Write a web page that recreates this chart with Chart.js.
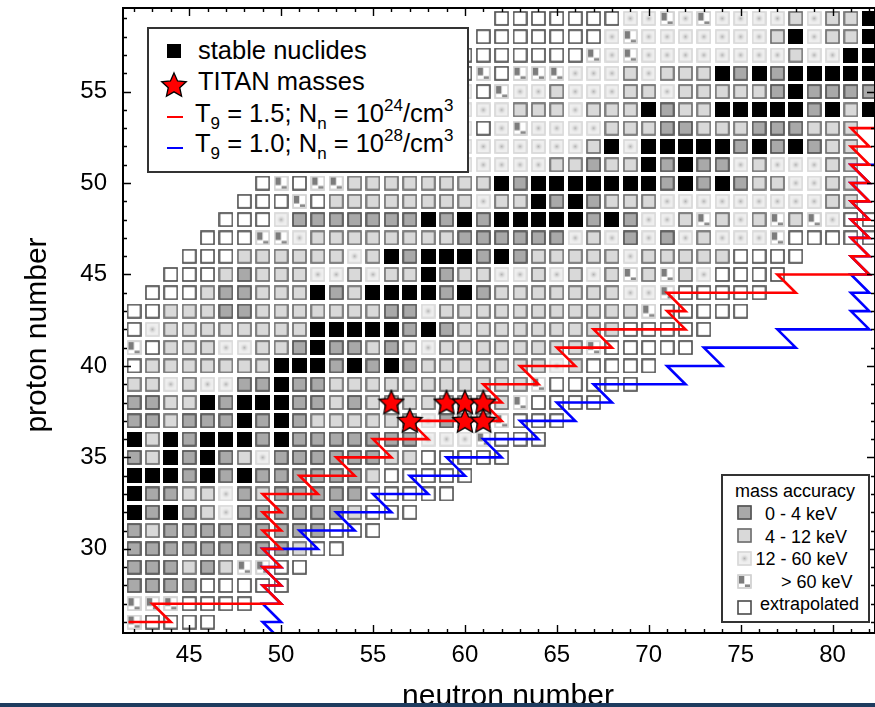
<!DOCTYPE html>
<html>
<head>
<meta charset="utf-8">
<script src="https://cdn.jsdelivr.net/npm/chart.js@4/dist/chart.umd.min.js"></script>
<style>
html,body{margin:0;padding:0;background:#fff;overflow:hidden;}
#wrap{position:relative;width:875px;height:707px;font-family:"Liberation Sans",Arial,Helvetica,sans-serif;color:#000;}
#c{position:absolute;left:0;top:0;}
.abs{position:absolute;white-space:nowrap;line-height:1;}
.box{position:absolute;box-sizing:border-box;background:#fff;border:2px solid #333;}
.l1{font-size:25.5px;}
.l2{font-size:18px;}
.sb{position:relative;font-size:17px;top:7px;line-height:0;}
.sp{position:relative;font-size:17px;top:-11px;line-height:0;}
</style>
</head>
<body>
<div id="wrap">
<canvas id="c" width="875" height="707"></canvas>

<div class="box" style="left:147px;top:27px;width:322px;height:146px;"></div>
<canvas id="icoStable" class="abs" width="16" height="16" style="left:166px;top:43px;"></canvas>
<canvas id="icoStar" class="abs" width="28" height="28" style="left:160px;top:71px;"></canvas>
<div class="abs" style="left:167px;top:116px;width:16px;height:2px;background:#ff0000;"></div>
<div class="abs" style="left:167px;top:147px;width:16px;height:2px;background:#0000ff;"></div>
<div class="abs l1" style="left:198px;top:38px;">stable nuclides</div>
<div class="abs l1" style="left:198px;top:69px;">TITAN masses</div>
<div class="abs l1" style="left:195px;top:101px;">T<span class="sb">9</span> = 1.5; N<span class="sb">n</span> = 10<span class="sp">24</span>/cm<span class="sp">3</span></div>
<div class="abs l1" style="left:195px;top:131px;">T<span class="sb">9</span> = 1.0; N<span class="sb">n</span> = 10<span class="sp">28</span>/cm<span class="sp">3</span></div>

<div class="box" style="left:721px;top:474px;width:149px;height:149px;"></div>
<div class="abs l2" style="left:735px;top:482px;">mass accuracy</div>
<canvas id="icoA" class="abs" width="15" height="15" style="left:737px;top:505px;"></canvas>
<canvas id="icoB" class="abs" width="15" height="15" style="left:737px;top:528px;"></canvas>
<canvas id="icoC" class="abs" width="15" height="15" style="left:737px;top:551px;"></canvas>
<canvas id="icoD" class="abs" width="15" height="15" style="left:737px;top:574px;"></canvas>
<canvas id="icoE" class="abs" width="15" height="15" style="left:737px;top:600px;"></canvas>
<div class="abs l2" style="left:765px;top:505px;">0 - 4 keV</div>
<div class="abs l2" style="left:765px;top:527.5px;">4 - 12 keV</div>
<div class="abs l2" style="left:755.5px;top:550px;">12 - 60 keV</div>
<div class="abs l2" style="left:781px;top:572.5px;">&gt; 60 keV</div>
<div class="abs l2" style="left:760px;top:595px;">extrapolated</div>

<div class="abs" style="left:-114px;top:320px;width:300px;height:30px;line-height:30px;font-size:30px;text-align:center;transform:rotate(-90deg);">proton number</div>
<div class="abs" style="left:308px;top:679.6px;width:400px;font-size:30px;text-align:center;">neutron number</div>
<div class="abs" style="left:0;top:703px;width:875px;height:4px;background:#1e3c5f;"></div>
</div>

<script>
// ---------------- data ----------------
const protonNumbers = [26,27,28,29,30,31,32,33,34,35,36,37,38,39,40,41,42,43,44,45,46,47,48,49,50,51,52,53,54,55,56,57,58,59];
const firstNeutron  = [42,42,42,42,42,42,42,42,42,42,42,42,42,42,42,42,42,42,43,44,45,46,47,48,49,60,60,60,60,60,60,60,61,62];
// S = stable, A = 0-4 keV, B = 4-12 keV, C = 12-60 keV, D = >60 keV, E = extrapolated
const accuracyCodes = [
  "DEEEE",
  "DDDEEEE",
  "AAAAEEEEE",
  "AAABABDDEE",
  "AAAAAAAAA" + "B" + "EE",
  "AB" + "AAAAAAAAA" + "EEE",
  "SASABC" + "AAAAAA" + "B" + "EEE",
  "SAABBCAB" + "AAAAA" + "EEEEE",
  "SSSASAS" + "AAAAAA" + "B" + "EEEEE",
  "ABSASABC" + "AAAAAA" + "BB" + "EEEEE",
  "SBSASSSAS" + "AAAAAAA" + "CCCD" + "EEE",
  "AABAAASASA" + "BBBBBB" + "CABBD" + "EEE",
  "AABBSASSSAABAB" + "BBBBBBB" + "D" + "EEEE",
  "BBCBCCAASAA" + "BBBBBBBBBBB" + "D" + "EEEEE",
  "E" + "BBBBBBB" + "SSSAS" + "ASA" + "BBBBBBB" + "CB" + "EEEE",
  "DEBBBCCBBASAAB" + "ABC" + "BBBBBBBB" + "D" + "EEEEE",
  "EC" + "BBBBBBBB" + "SSSSS" + "ASA" + "BBBBBBBBB" + "EEEEE",
  "EEBBBAA" + "BBBBBBB" + "AAC" + "BBBBBBBBBB" + "BD" + "EEEEE",
  "EEEBAABBBSABS" + "SSSASA" + "BBBBBBB" + "CCD" + "EEEEE",
  "EEEBABBBCCBC" + "BBSABBCCBCBCB" + "DBDBC" + "EEEE",
  "EEE" + "BBBBBB" + "CB" + "SASSSASA" + "BBBBB" + "C" + "BBBBB" + "EEEE",
  "EEEDDC" + "BBBBBBBB" + "AAAAAA" + "CBC" + "ACACBCCCD" + "EEEEE",
  "EEEC" + "AAAAAAA" + "SASA" + "SSSSS" + "AS" + "ACCBDBCBDBDC" + "EE",
  "EEEDE" + "BBBBBBBB" + "CBBSASAB" + "BB" + "CCCCCCCCC" + "BB",
  "EDEDD" + "BBBBBBBB" + "SA" + "SSSSS" + "SSASASA" + "BBCCBB",
  "CCCCCBBAB" + "BSASAACBCCCBB",
  "CCCCCCCBS" + "CSSSSSASASABB",
  "CECDCCCCB" + "BBAABBBAAABBB",
  "CCCBBBCBB" + "BSABBSSSSSASBS",
  "CEDCCBCCC" + "BBCBBBBBASAAAA",
  "EDEDDDCCC" + "BCBBBSASASSSSS",
  "EEEEEEEDC" + "DCCCCCCCCBCCSS",
  "EEEEEEEC" + "DCCCCCCCBSCBBS",
  "EEEEEEE" + "CCDCDCCCCBCBBS"
];
const titanN = [56, 59, 60, 61, 57, 60, 61];
const titanZ = [38, 38, 38, 38, 37, 37, 37];

// r-process paths: for each proton number, the neutron range of the path
const redZ    = [26,27,28,29,30,31,32,33,34,35,36,37,38,39,40,41,42,43,44,45,46,47,48,49,50,51,52,53];
const redFrom = [41.7,43,49,49,49,49,49,49,51,53,55,57,61,61,63,65,67,71,71,77,81,81,81,81,81,81,81,81];
const redTo   = [44,50,50,50,50,50,50,52,54,56,58,62,62,64,66,68,72,72,78,82,82,82,82,82,82,82,82,84];
const blueZ    = [25,26,27,28,29,30,31,32,33,34,35,36,37,38,39,40,41,42,43,44,45,46,47,48,49,50,51];
const blueFrom = [49,49,49,49,49,49,51,53,55,57,59,61,63,65,67,71,73,77,81,81,81,81,81,81,81,81,81];
const blueTo   = [50,50,50,50,50,52,54,56,58,60,62,64,66,68,72,74,78,82,82,82,82,82,82,82,82,82,84];

const neutronTicks = [45, 50, 55, 60, 65, 70, 75, 80];
const protonTicks  = [30, 35, 40, 45, 50, 55];

// ---------------- marker painters ----------------
function paintCell(g, code, s) {
  g.clearRect(0, 0, s, s);
  if (code === 'S') { g.fillStyle = '#000'; g.fillRect(0, 0, s, s); return; }
  const styles = {
    A: ['#a9a9a9', '#505050'],
    B: ['#d9d9d9', '#6c6c6c'],
    C: ['#efefef', '#d8d8d8'],
    D: ['#ececec', '#d0d0d0'],
    E: ['#ffffff', '#4a4a4a']
  };
  const [fill, stroke] = styles[code];
  g.fillStyle = fill; g.fillRect(0.5, 0.5, s - 1, s - 1);
  if (code === 'C') {
    const gr = g.createRadialGradient(s / 2, s / 2, 0, s / 2, s / 2, s * 0.33);
    gr.addColorStop(0, 'rgba(170,170,170,0.9)');
    gr.addColorStop(1, 'rgba(239,239,239,0)');
    g.fillStyle = gr; g.fillRect(1, 1, s - 2, s - 2);
  }
  if (code === 'D') {
    const u = s / 15;
    g.fillStyle = '#7c7c7c'; g.fillRect(2 * u, 2 * u, 5.5 * u, 7.5 * u);
    g.fillStyle = '#ffffff'; g.fillRect(7.5 * u, 2 * u, 5.5 * u, 8 * u);
    g.fillStyle = '#ffffff'; g.fillRect(2 * u, 10 * u, 5.5 * u, 3 * u);
    g.fillStyle = '#8a8a8a'; g.fillRect(8 * u, 10.5 * u, 5 * u, 2.5 * u);
  }
  g.strokeStyle = stroke; g.lineWidth = 1.6;
  g.strokeRect(1, 1, s - 2, s - 2);
}
function makeCell(code, s) {
  const c = document.createElement('canvas');
  c.width = s; c.height = s;
  paintCell(c.getContext('2d'), code, s);
  return c;
}
function paintStar(g, s) {
  const cx = s / 2, cy = s / 2 + 0.8, R = s * 0.46, r = s * 0.215;
  g.beginPath();
  for (let i = 0; i < 10; i++) {
    const rad = (i % 2 === 0) ? R : r;
    const a = -Math.PI / 2 + i * Math.PI / 5;
    const px = cx + rad * Math.cos(a), py = cy + rad * Math.sin(a);
    if (i === 0) g.moveTo(px, py); else g.lineTo(px, py);
  }
  g.closePath();
  g.fillStyle = '#ff0000'; g.fill();
  g.strokeStyle = '#000'; g.lineWidth = 1.3; g.stroke();
}
function makeStar(s) {
  const c = document.createElement('canvas');
  c.width = s; c.height = s;
  paintStar(c.getContext('2d'), s);
  return c;
}

// legend icons
(function () {
  const gS = document.getElementById('icoStable').getContext('2d');
  gS.fillStyle = '#000'; gS.fillRect(1, 1, 14, 14);
  paintStar(document.getElementById('icoStar').getContext('2d'), 28);
  ['A', 'B', 'C', 'D', 'E'].forEach(k => {
    paintCell(document.getElementById('ico' + k).getContext('2d'), k, 15);
  });
})();

// ---------------- datasets ----------------
const cellPoints = { S: [], A: [], B: [], C: [], D: [], E: [] };
protonNumbers.forEach((z, i) => {
  const codes = accuracyCodes[i];
  for (let k = 0; k < codes.length; k++) {
    cellPoints[codes[k]].push({ x: firstNeutron[i] + k, y: z });
  }
});
function pathPoints(zs, from, to) {
  const pts = [];
  zs.forEach((z, i) => { pts.push({ x: from[i], y: z }); pts.push({ x: to[i], y: z }); });
  return pts;
}

const datasets = [];
datasets.push({
  label: 'TITAN masses',
  data: titanN.map((n, i) => ({ x: n, y: titanZ[i] })),
  pointStyle: makeStar(28), pointRadius: 12, order: 0
});
datasets.push({
  label: 'T9 = 1.5',
  data: pathPoints(redZ, redFrom, redTo),
  showLine: true, borderColor: '#ff0000', borderWidth: 2.6, pointRadius: 0,
  fill: false, tension: 0, order: 1
});
datasets.push({
  label: 'T9 = 1.0',
  data: pathPoints(blueZ, blueFrom, blueTo),
  showLine: true, borderColor: '#0000ff', borderWidth: 2.6, pointRadius: 0,
  fill: false, tension: 0, order: 2
});
['S', 'A', 'B', 'C', 'D', 'E'].forEach(k => {
  datasets.push({
    label: k,
    data: cellPoints[k],
    pointStyle: makeCell(k, 15), pointRadius: 7, order: 3
  });
});

// frame with inward ticks
const framePlugin = {
  id: 'frame',
  afterDatasetsDraw(chart) {
    const { ctx, chartArea: a, scales: { x, y } } = chart;
    ctx.save();
    ctx.strokeStyle = '#000';
    ctx.lineWidth = 1.4;
    ctx.beginPath();
    for (let n = Math.ceil(x.min); n <= x.max; n++) {
      const px = Math.round(x.getPixelForValue(n)) + 0.5;
      const L = (n % 5 === 0) ? 8 : 4;
      ctx.moveTo(px, a.bottom); ctx.lineTo(px, a.bottom - L);
      ctx.moveTo(px, a.top); ctx.lineTo(px, a.top + L);
    }
    for (let z = Math.ceil(y.min); z <= y.max; z++) {
      const py = Math.round(y.getPixelForValue(z)) + 0.5;
      const L = (z % 5 === 0) ? 8 : 4;
      ctx.moveTo(a.left, py); ctx.lineTo(a.left + L, py);
      ctx.moveTo(a.right, py); ctx.lineTo(a.right - L, py);
    }
    ctx.stroke();
    ctx.lineWidth = 2;
    ctx.strokeRect(a.left, a.top, a.right - a.left, a.bottom - a.top);
    ctx.restore();
  }
};

new Chart(document.getElementById('c'), {
  type: 'scatter',
  data: { datasets },
  options: {
    responsive: false,
    animation: false,
    events: [],
    layout: { autoPadding: false, padding: { top: 8, right: 0, left: 0, bottom: 0 } },
    plugins: { legend: { display: false }, tooltip: { enabled: false } },
    scales: {
      x: {
        type: 'linear', min: 41.4, max: 82.31,
        afterBuildTicks: s => { s.ticks = neutronTicks.map(v => ({ value: v })); },
        afterFit: s => { s.height = 74; s.paddingLeft = 0; s.paddingRight = 0; },
        grid: { display: false, drawTicks: false },
        border: { display: false },
        ticks: { color: '#000', padding: 8, maxRotation: 0, autoSkip: false,
                 font: { family: 'Liberation Sans', size: 24 } }
      },
      y: {
        type: 'linear', min: 25.4, max: 59.57,
        afterBuildTicks: s => { s.ticks = protonTicks.map(v => ({ value: v })); },
        afterFit: s => { s.width = 123; s.paddingTop = 0; s.paddingBottom = 0; },
        grid: { display: false, drawTicks: false },
        border: { display: false },
        ticks: { color: '#000', padding: 16, autoSkip: false,
                 font: { family: 'Liberation Sans', size: 24 } }
      }
    }
  },
  plugins: [framePlugin]
});
</script>
</body>
</html>
